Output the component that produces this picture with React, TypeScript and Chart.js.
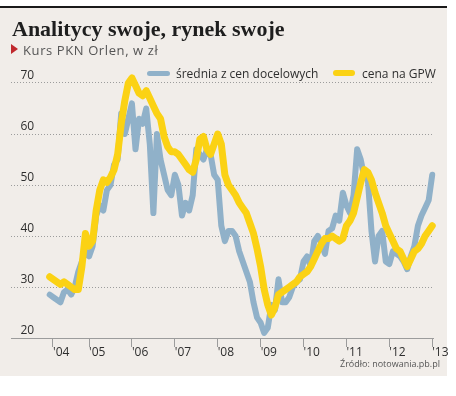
import React, { useEffect, useRef } from "react";
import { Chart, registerables } from "chart.js";

Chart.register(...registerables);

// ---- DATA ----
// monthly samples starting February 2004
const startYear = 2004;
const startMonth = 2;

// cena na GPW (PLN)
const priceGPW = [
  32, 31.5, 31, 30.5, 31, 30.5, 30, 29.5, 29.5, 34, 40.5,
  38, 39, 45, 49, 51, 50.5, 51.5, 53, 56, 62, 66.5, 70,
  71, 69.5, 68, 67.5, 68.5, 67, 65.5, 64, 63, 59.5, 57.5, 56.5,
  56.5, 56, 55, 54, 53, 52.5, 55, 59, 59.5, 57, 56, 58,
  60, 58, 52, 50, 49, 48, 46.5, 45.5, 44.5, 42.5, 40.5, 37.5,
  34, 29.5, 26.5, 24.5, 26, 28.5, 29, 29.5, 30, 30.5, 31, 32,
  32.5, 33, 34, 35.5, 37, 38.5, 39.5, 39.5, 40, 39.5, 39, 39.5,
  42, 43, 44.5, 47.5, 50.5, 53, 52.5, 51, 48.5, 46.5, 44.5, 42,
  40.5, 39, 37.5, 37, 35.5, 34, 35.5, 37, 37.5, 38.5, 40, 41,
  42,
];

// średnia z cen docelowych (PLN)
const targetAvg = [
  28.5, 28, 27.5, 27, 29, 29.5, 28.5, 30, 33, 35, 37,
  36, 38, 44, 46, 45, 49, 50, 54, 55, 64, 60, 63,
  66, 57, 63, 62, 65, 58, 44.5, 60, 55, 52, 49, 48,
  52, 50, 44, 46.5, 45, 48, 57, 56, 55, 57, 56, 52,
  51, 42, 39, 41, 41, 40, 37, 35, 33, 31, 27, 24,
  23, 21, 22, 26.5, 25.5, 31.5, 27, 27, 28, 30, 31, 31.5,
  35, 36, 34, 39, 40, 38.5, 36.5, 41, 41.5, 44, 43, 48.5,
  46, 44.5, 48, 57, 55, 51.5, 51, 41, 35, 40, 41, 35,
  34.5, 37, 36.5, 36, 35, 33.5, 36, 38, 42, 44, 45.5, 47,
  52,
];

const yearTickValues = [2004.16, 2005, 2006, 2007, 2008, 2009, 2010, 2011, 2012, 2013];
const yearTickLabels = ["'04", "'05", "'06", "'07", "'08", "'09", "'10", "'11", "'12", "'13"];
const yMin = 20;
const yMax = 72;
const yStep = 10;
const xMin = 2003.181;
const xMax = 2013.018;

const BG = "#f1ede9";
const YELLOW = "#fbd214";
const BLUE = "#90b1c9";
const GRID = "#9c9c9c";
const TEXT = "#2e2e2e";

const toYear = (i: number) => startYear + (startMonth - 1 + i) / 12;

export default function App() {
  const ref = useRef<HTMLCanvasElement | null>(null);

  useEffect(() => {
    if (!ref.current) return;
    const chart = new Chart(ref.current, {
      type: "line",
      data: {
        datasets: [
          {
            label: "cena na GPW",
            data: priceGPW.map((v, i) => ({ x: toYear(i), y: v })),
            borderColor: YELLOW,
            backgroundColor: YELLOW,
            borderWidth: 7,
            pointRadius: 0,
            borderCapStyle: "round",
            borderJoinStyle: "round",
            tension: 0,
            clip: false as any,
          },
          {
            label: "średnia z cen docelowych",
            data: targetAvg.map((v, i) => ({ x: toYear(i), y: v })),
            borderColor: BLUE,
            backgroundColor: BLUE,
            borderWidth: 6,
            pointRadius: 0,
            borderCapStyle: "round",
            borderJoinStyle: "round",
            tension: 0,
            clip: false as any,
          },
        ],
      },
      options: {
        animation: false,
        responsive: false,
        maintainAspectRatio: false,
        events: [],
        layout: { padding: { left: 0, right: 23, top: 72.8, bottom: 0 } },
        plugins: {
          legend: { display: false },
          tooltip: { enabled: false },
          title: { display: false },
        },
        scales: {
          x: {
            type: "linear",
            min: xMin,
            max: xMax,
            afterBuildTicks: (s: any) => {
              s.ticks = yearTickValues.map((v) => ({ value: v }));
            },
            afterFit: (s: any) => {
              s.height = 58;
            },
            grid: {
              drawOnChartArea: false,
              drawTicks: true,
              tickLength: 9,
              color: GRID,
              lineWidth: 1,
            },
            border: { display: true, color: GRID, width: 1 },
            ticks: {
              align: "start",
              padding: -2,
              autoSkip: false,
              maxRotation: 0,
              minRotation: 0,
              color: TEXT,
              font: { family: "'Open Sans'", size: 12 },
              callback: (_v: any, i: number) => yearTickLabels[i],
            },
          },
          y: {
            type: "linear",
            min: yMin,
            max: yMax,
            afterFit: (s: any) => {
              s.width = 11;
            },
            grid: { drawTicks: false, color: GRID, lineWidth: 1 },
            border: { display: false, dash: [1, 2] },
            ticks: {
              stepSize: yStep,
              includeBounds: false,
              mirror: true,
              padding: 9.5,
              labelOffset: -7.5,
              color: TEXT,
              font: { family: "'Open Sans'", size: 12 },
            },
          },
        },
      } as any,
    });
    return () => chart.destroy();
  }, []);

  return (
    <div
      style={{
        position: "absolute",
        left: 0,
        top: 0,
        width: 456,
        height: 396,
        background: "#ffffff",
        overflow: "hidden",
      }}
    >
      <div style={{ position: "absolute", left: 0, top: 6, width: 447, height: 2, background: "#1a1a1a" }} />
      <div style={{ position: "absolute", left: 0, top: 8, width: 447, height: 368, background: BG }} />
      <canvas
        ref={ref}
        width={456}
        height={396}
        style={{ position: "absolute", left: 0, top: 0, width: 456, height: 396 }}
      />
      <div
        style={{
          position: "absolute",
          left: 12,
          top: 17.5,
          font: "bold 22px 'Liberation Serif'",
          lineHeight: "22px",
          color: "#1e1e1e",
          whiteSpace: "nowrap",
        }}
      >
        Analitycy swoje, rynek swoje
      </div>
      <div
        style={{
          position: "absolute",
          left: 11,
          top: 44,
          width: 0,
          height: 0,
          borderLeft: "7px solid #c0282d",
          borderTop: "5px solid transparent",
          borderBottom: "5px solid transparent",
        }}
      />
      <div
        style={{
          position: "absolute",
          left: 23,
          top: 43.5,
          font: "13px 'Open Sans'",
          lineHeight: "13px",
          letterSpacing: "0.6px",
          color: "#555",
          whiteSpace: "nowrap",
        }}
      >
        Kurs PKN Orlen, w zł
      </div>
      <div
        style={{ position: "absolute", left: 147, top: 70.5, width: 23, height: 5, borderRadius: 3, background: BLUE }}
      />
      <div
        style={{
          position: "absolute",
          left: 176,
          top: 68.3,
          font: "12px 'Open Sans'",
          lineHeight: "12px",
          color: TEXT,
          whiteSpace: "nowrap",
        }}
      >
        średnia z cen docelowych
      </div>
      <div
        style={{ position: "absolute", left: 333, top: 70, width: 22, height: 6, borderRadius: 3, background: YELLOW }}
      />
      <div
        style={{
          position: "absolute",
          left: 362,
          top: 68.3,
          font: "12px 'Open Sans'",
          lineHeight: "12px",
          color: TEXT,
          whiteSpace: "nowrap",
        }}
      >
        cena na GPW
      </div>
      <div
        style={{
          position: "absolute",
          right: 16,
          top: 359,
          font: "9px 'Open Sans'",
          lineHeight: "9px",
          color: "#555",
          whiteSpace: "nowrap",
        }}
      >
        Źródło: notowania.pb.pl
      </div>
    </div>
  );
}
